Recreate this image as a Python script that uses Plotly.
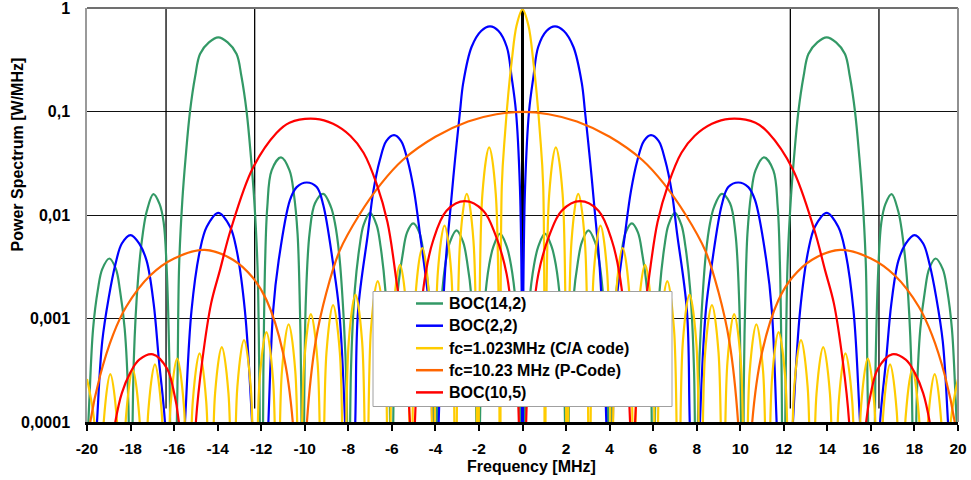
import plotly.graph_objects as go

# ---------------- data ----------------
# Frequency [MHz] / Power spectrum [W/MHz]; 1e-6 marks a spectral null (below the 1e-4 floor)

GREEN_F = [-20.0, -19.9, -19.72, -19.5, -19.3, -18.97, -18.67, -18.49, -18.27, -18.1, -18.02,
           -17.85, -17.65, -17.43, -17.25, -16.95, -16.67, -16.48, -16.34, -16.22, -16.07,
           -15.85, -15.77, -15.62, -15.47, -15.27, -15.03, -14.81, -14.4, -13.97, -13.54, -13.13, -12.91,
           -12.67, -12.47, -12.32, -12.17, -12.08, -11.98,
           -11.9, -11.82, -11.72, -11.52, -11.09, -10.7, -10.5, -10.33, -10.22, -10.16, -10.1,
           -10.02, -9.95, -9.78, -9.53, -9.15, -8.8, -8.62, -8.42, -8.2, -8.08, -7.98,
           -7.88, -7.7, -7.48, -7.3, -7.0, -6.7, -6.52, -6.3, -6.12, -6.0,
           -5.9, -5.72, -5.5, -5.3, -5.02, -4.74, -4.54, -4.32, -4.14, -4.02,
           -3.9, -3.72, -3.52, -3.33, -3.03, -2.73, -2.55, -2.33, -2.15, -2.05,
           -1.92, -1.74, -1.53, -1.33, -1.03, -0.73, -0.53, -0.31, -0.13, 0.0,
           0.13, 0.31, 0.53, 0.73, 1.03, 1.33, 1.53, 1.74, 1.92, 2.05,
           2.15, 2.33, 2.55, 2.73, 3.03, 3.33, 3.52, 3.72, 3.9, 4.02,
           4.14, 4.32, 4.54, 4.74, 5.02, 5.3, 5.5, 5.72, 5.9, 6.0,
           6.12, 6.3, 6.52, 6.7, 7.0, 7.3, 7.48, 7.7, 7.88, 7.98,
           8.08, 8.2, 8.42, 8.62, 8.8, 9.15, 9.53, 9.78, 9.95, 10.02, 10.1,
           10.16, 10.22, 10.33, 10.5, 10.7, 11.09, 11.52, 11.72, 11.82, 11.9, 11.98,
           12.08, 12.17, 12.32, 12.47, 12.67, 12.91, 13.13, 13.54, 13.97, 14.4, 14.81, 15.03,
           15.27, 15.47, 15.62, 15.77, 15.85, 16.07,
           16.22, 16.34, 16.48, 16.67, 16.95, 17.25, 17.43, 17.65, 17.85, 18.02,
           18.1, 18.27, 18.49, 18.67, 18.97, 19.3, 19.5, 19.72, 19.9, 20.0]
GREEN_P = [5e-5, 0.00015, 0.0008, 0.0019, 0.003, 0.0038, 0.003, 0.0019, 0.0008, 0.00015, 1e-6,
           0.0004, 0.0025, 0.0068, 0.011, 0.0159, 0.0128, 0.0085, 0.003, 0.0004, 1e-6,
           0.0002, 0.0032, 0.014, 0.036, 0.1, 0.22, 0.36, 0.465, 0.52, 0.465, 0.36, 0.22,
           0.1, 0.036, 0.014, 0.0032, 0.0002, 1e-6,
           0.0003, 0.0035, 0.012, 0.027, 0.036, 0.027, 0.016, 0.0066, 0.0012, 0.0002, 1e-6,
           0.0002, 0.0015, 0.0066, 0.013, 0.016, 0.012, 0.0085, 0.0042, 0.0009, 0.0002, 1e-6,
           0.0003, 0.0019, 0.005, 0.008, 0.0105, 0.008, 0.005, 0.0019, 0.0003, 1e-6,
           0.0003, 0.0019, 0.0042, 0.0068, 0.0083, 0.0068, 0.0042, 0.0019, 0.0003, 1e-6,
           0.00025, 0.0015, 0.0036, 0.0055, 0.0071, 0.0055, 0.0036, 0.0015, 0.00025, 1e-6,
           0.00022, 0.0014, 0.0033, 0.005, 0.0066, 0.005, 0.0033, 0.0014, 0.00022, 1e-6,
           0.00022, 0.0014, 0.0033, 0.005, 0.0066, 0.005, 0.0033, 0.0014, 0.00022, 1e-6,
           0.00025, 0.0015, 0.0036, 0.0055, 0.0071, 0.0055, 0.0036, 0.0015, 0.00025, 1e-6,
           0.0003, 0.0019, 0.0042, 0.0068, 0.0083, 0.0068, 0.0042, 0.0019, 0.0003, 1e-6,
           0.0003, 0.0019, 0.005, 0.008, 0.0105, 0.008, 0.005, 0.0019, 0.0003, 1e-6,
           0.0002, 0.0009, 0.0042, 0.0085, 0.012, 0.016, 0.013, 0.0066, 0.0015, 0.0002, 1e-6,
           0.0002, 0.0012, 0.0066, 0.016, 0.027, 0.036, 0.027, 0.012, 0.0035, 0.0003, 1e-6,
           0.0002, 0.0032, 0.014, 0.036, 0.1, 0.22, 0.36, 0.465, 0.52, 0.465, 0.36, 0.22,
           0.1, 0.036, 0.014, 0.0032, 0.0002, 1e-6,
           0.0004, 0.003, 0.0085, 0.0128, 0.0159, 0.011, 0.0068, 0.0025, 0.0004, 1e-6,
           0.00015, 0.0008, 0.0019, 0.003, 0.0038, 0.003, 0.0019, 0.0008, 0.00015, 5e-5]

BLUE_F = [-20.0, -19.54, -19.3, -19.0, -18.7, -18.4, -18.0, -17.6, -17.26, -16.94, -16.7, -16.42, -16.0,
          -15.5, -15.2, -14.81, -14.5, -13.97, -13.43, -13.13, -12.75, -12.42, -12.0,
          -11.67, -11.45, -11.2, -10.68, -10.37, -9.91, -9.45, -9.15, -8.7, -8.42, -8.15, -7.95,
          -7.68, -7.55, -7.1, -6.85, -6.55, -6.25, -5.9, -5.58, -5.28, -4.98, -4.71, -4.28, -4.15, -4.0,
          -3.85, -3.55, -3.3, -3.1, -2.87, -2.72, -2.34, -1.9, -1.49, -1.1, -0.72, -0.5, -0.3, -0.12, -0.04, 0.0,
          0.04, 0.12, 0.3, 0.5, 0.72, 1.1, 1.49, 1.9, 2.34, 2.72, 2.87, 3.1, 3.3, 3.55, 3.85,
          4.0, 4.15, 4.28, 4.71, 4.98, 5.28, 5.58, 5.9, 6.25, 6.55, 6.85, 7.1, 7.55, 7.68,
          7.95, 8.15, 8.42, 8.7, 9.15, 9.45, 9.91, 10.37, 10.68, 11.2, 11.45, 11.67,
          12.0, 12.42, 12.75, 13.13, 13.43, 13.97, 14.5, 14.81, 15.2, 15.5,
          16.0, 16.42, 16.7, 16.94, 17.26, 17.6, 18.0, 18.4, 18.7, 19.0, 19.3, 19.54, 20.0]
BLUE_P = [1e-6, 0.0001, 0.0006, 0.0016, 0.0033, 0.0053, 0.0064, 0.0053, 0.0036, 0.0014, 0.0004, 0.0001, 1e-6,
          0.0001, 0.0012, 0.0046, 0.0077, 0.0105, 0.0077, 0.0046, 0.0012, 0.0001, 1e-6,
          0.0001, 0.0012, 0.0036, 0.0139, 0.0186, 0.0206, 0.0186, 0.0125, 0.0034, 0.0012, 0.0001, 1e-6,
          0.0001, 0.0012, 0.0066, 0.017, 0.034, 0.052, 0.059, 0.052, 0.034, 0.017, 0.0066, 0.0012, 0.0001, 1e-6,
          0.0001, 0.003, 0.012, 0.034, 0.1, 0.19, 0.42, 0.6, 0.665, 0.6, 0.42, 0.215, 0.1, 0.019, 0.002, 1e-6,
          0.002, 0.019, 0.1, 0.215, 0.42, 0.6, 0.665, 0.6, 0.42, 0.19, 0.1, 0.034, 0.012, 0.003, 0.0001,
          1e-6, 0.0001, 0.0012, 0.0066, 0.017, 0.034, 0.052, 0.059, 0.052, 0.034, 0.017, 0.0066, 0.0012, 0.0001,
          1e-6, 0.0001, 0.0012, 0.0034, 0.0125, 0.0186, 0.0206, 0.0186, 0.0139, 0.0036, 0.0012, 0.0001,
          1e-6, 0.0001, 0.0012, 0.0046, 0.0077, 0.0105, 0.0077, 0.0046, 0.0012, 0.0001,
          1e-6, 0.0001, 0.0004, 0.0014, 0.0036, 0.0053, 0.0064, 0.0053, 0.0033, 0.0016, 0.0006, 0.0001, 1e-6]

YELLOW_F = [-20.0, -19.64, -19.437, -19.232, -18.93, -18.619, -18.414, -18.209, -17.9, -17.596, -17.391,
            -17.186, -16.88, -16.573, -16.368, -16.163, -15.86, -15.55, -15.345, -15.14, -14.83, -14.527, -14.322,
            -14.117, -13.81, -13.504, -13.299, -13.094, -12.79, -12.481, -12.276, -12.071, -11.76, -11.458, -11.253,
            -11.048, -10.74, -10.435, -10.23, -10.025, -9.72, -9.412, -9.207, -9.002, -8.7, -8.389, -8.184,
            -7.979, -7.67, -7.366, -7.161, -6.956, -6.65, -6.343, -6.138, -5.933, -5.63, -5.32, -5.115,
            -4.91, -4.6, -4.297, -4.092, -3.887, -3.58, -3.274, -3.069, -2.864, -2.56, -2.251, -2.046,
            -1.841, -1.53, -1.228, -1.023, -0.95, -0.8, -0.65, -0.5, -0.27, 0.0,
            0.27, 0.5, 0.65, 0.8, 0.95, 1.023, 1.228, 1.53, 1.841, 2.046, 2.251, 2.56, 2.864, 3.069,
            3.274, 3.58, 3.887, 4.092, 4.297, 4.6, 4.91, 5.115, 5.32, 5.63, 5.933, 6.138,
            6.343, 6.65, 6.956, 7.161, 7.366, 7.67, 7.979, 8.184, 8.389, 8.7, 9.002, 9.207,
            9.412, 9.72, 10.025, 10.23, 10.435, 10.74, 11.048, 11.253, 11.458, 11.76, 12.071, 12.276,
            12.481, 12.79, 13.094, 13.299, 13.504, 13.81, 14.117, 14.322, 14.527, 14.83, 15.14, 15.345,
            15.55, 15.86, 16.163, 16.368, 16.573, 16.88, 17.186, 17.391, 17.596, 17.9, 18.209, 18.414,
            18.619, 18.93, 19.232, 19.437, 19.64, 20.0]
YELLOW_P = [0.00026, 0.00009, 1e-6, 0.0001, 0.00029, 0.0001, 1e-6, 0.000112, 0.00032, 0.000112, 1e-6,
            0.000126, 0.00036, 0.000126, 1e-6, 0.000143, 0.00041, 0.000143, 1e-6, 0.00016, 0.00046, 0.00016, 1e-6,
            0.00019, 0.00053, 0.00019, 1e-6, 0.00022, 0.00062, 0.00022, 1e-6, 0.00026, 0.00074, 0.00026, 1e-6,
            0.00031, 0.00088, 0.00031, 1e-6, 0.00038, 0.0011, 0.00038, 1e-6, 0.00047, 0.00135, 0.00047, 1e-6,
            0.0006, 0.0017, 0.0006, 1e-6, 0.0008, 0.0023, 0.0008, 1e-6, 0.00115, 0.0033, 0.00115, 1e-6,
            0.0017, 0.0048, 0.0017, 1e-6, 0.0028, 0.0079, 0.0028, 1e-6, 0.0056, 0.016, 0.0056, 1e-6,
            0.016, 0.045, 0.016, 1e-6, 0.019, 0.062, 0.15, 0.3, 0.68, 0.97,
            0.68, 0.3, 0.15, 0.062, 0.019, 1e-6, 0.016, 0.045, 0.016, 1e-6, 0.0056, 0.016, 0.0056, 1e-6,
            0.0028, 0.0079, 0.0028, 1e-6, 0.0017, 0.0048, 0.0017, 1e-6, 0.00115, 0.0033, 0.00115, 1e-6,
            0.0008, 0.0023, 0.0008, 1e-6, 0.0006, 0.0017, 0.0006, 1e-6, 0.00047, 0.00135, 0.00047, 1e-6,
            0.00038, 0.0011, 0.00038, 1e-6, 0.00031, 0.00088, 0.00031, 1e-6, 0.00026, 0.00074, 0.00026, 1e-6,
            0.00022, 0.00062, 0.00022, 1e-6, 0.00019, 0.00053, 0.00019, 1e-6, 0.00016, 0.00046, 0.00016, 1e-6,
            0.000143, 0.00041, 0.000143, 1e-6, 0.000126, 0.00036, 0.000126, 1e-6, 0.000112, 0.00032, 0.000112, 1e-6,
            0.0001, 0.00029, 0.0001, 1e-6, 0.00009, 0.00026]

ORANGE_F = [-20.0, -19.85, -19.4, -18.8, -18.2, -17.1, -16.0, -14.6, -13.3, -12.4, -11.75, -11.0, -10.55, -10.23,
            -9.9, -9.5, -9.0, -8.4, -7.5, -6.5, -5.5, -4.0, -2.5, -1.2, 0.0,
            1.2, 2.5, 4.0, 5.5, 6.5, 7.5, 8.4, 9.0, 9.5, 9.9,
            10.23, 10.55, 11.0, 11.75, 12.4, 13.3, 14.6, 16.0, 17.1, 18.2, 18.8, 19.4, 19.85, 20.0]
ORANGE_P = [5e-5, 0.0001, 0.00028, 0.0007, 0.0013, 0.0026, 0.0038, 0.0046, 0.0037, 0.0025, 0.0015, 0.00047, 0.0001, 1e-6,
            0.0001, 0.0006, 0.0018, 0.0045, 0.010, 0.02, 0.034, 0.057, 0.080, 0.094, 0.099,
            0.094, 0.080, 0.057, 0.034, 0.02, 0.010, 0.0045, 0.0018, 0.0006, 0.0001,
            1e-6, 0.0001, 0.00047, 0.0015, 0.0025, 0.0037, 0.0046, 0.0038, 0.0026, 0.0013, 0.0007, 0.00028, 0.0001, 5e-5]

RED_F = [-20.0, -18.7, -18.4, -18.01, -17.6, -16.97, -16.33, -16.04, -15.78, -15.35,
         -15.0, -14.7, -14.3, -13.9, -13.4, -12.4, -11.3, -10.7, -9.5, -8.7, -7.9, -7.3, -6.7, -6.2, -5.8, -5.5, -5.17, -5.06,
         -4.94, -4.56, -4.1, -3.49, -2.64, -1.8, -1.25, -0.73, -0.45, -0.2, 0.0,
         0.2, 0.45, 0.73, 1.25, 1.8, 2.64, 3.49, 4.1, 4.56, 4.94,
         5.06, 5.17, 5.5, 5.8, 6.2, 6.7, 7.3, 7.9, 8.7, 9.5, 10.7, 11.3, 12.4, 13.4, 13.9, 14.3, 14.7, 15.0,
         15.35, 15.78, 16.04, 16.33, 16.97, 17.6, 18.01, 18.4, 18.7, 20.0]
RED_P = [1e-6, 0.0001, 0.00019, 0.0003, 0.0004, 0.00045, 0.00033, 0.00021, 0.0001, 1e-6,
         0.0001, 0.0004, 0.0014, 0.0029, 0.0072, 0.028, 0.062, 0.078, 0.085, 0.076, 0.058, 0.040, 0.020, 0.0085, 0.0024, 0.0008, 0.0001, 1e-6,
         0.0001, 0.0019, 0.0057, 0.011, 0.0136, 0.011, 0.0065, 0.0027, 0.0009, 0.00016, 1e-6,
         0.00016, 0.0009, 0.0027, 0.0065, 0.011, 0.0136, 0.011, 0.0057, 0.0019, 0.0001,
         1e-6, 0.0001, 0.0008, 0.0024, 0.0085, 0.020, 0.040, 0.058, 0.076, 0.085, 0.078, 0.062, 0.028, 0.0072, 0.0029, 0.0014, 0.0004, 0.0001,
         1e-6, 0.0001, 0.00021, 0.00033, 0.00045, 0.0004, 0.0003, 0.00019, 0.0001, 1e-6]

# black band-edge markers (MHz) and their vertical extent
EDGE_F = [-16.37, -12.3, 12.3, 16.37]
EDGE_P = [0.000135, 1.0]

SERIES_NAMES = ["BOC(14,2)", "BOC(2,2)", "fc=1.023MHz (C/A code)", "fc=10.23 MHz (P-Code)", "BOC(10,5)"]
SERIES_COLORS = ["#339966", "#0000FF", "#FFCC00", "#FF6600", "#FF0000"]

X_TICKS = list(range(-20, 21, 2))
X_LABELS = [str(v) for v in X_TICKS]
Y_TICKS = [0.0001, 0.001, 0.01, 0.1, 1]
Y_LABELS = ["0,0001", "0,001", "0,01", "0,1", "1"]

FONT = "Arial, 'Liberation Sans', sans-serif"

# ---------------- figure ----------------
fig = go.Figure()

ex, ey = [], []
for f in EDGE_F:
    ex += [f, f, None]
    ey += [EDGE_P[0], EDGE_P[1], None]
fig.add_trace(go.Scatter(x=ex, y=ey, mode="lines", line=dict(color="black", width=1.3),
                         hoverinfo="skip", showlegend=False))

for name, fx, py_, col in zip(SERIES_NAMES,
                              [GREEN_F, BLUE_F, YELLOW_F, ORANGE_F, RED_F],
                              [GREEN_P, BLUE_P, YELLOW_P, ORANGE_P, RED_P],
                              SERIES_COLORS):
    fig.add_trace(go.Scatter(x=fx, y=py_, mode="lines", name=name,
                             line=dict(color=col, width=2.2, shape="spline", smoothing=1.0),
                             showlegend=False))

L, R, T, B = 87, 13, 8, 58
W, H = 971, 480
PW, PH = W - L - R, H - T - B

def px2paper_x(px):
    return (px - L) / PW

def px2paper_y(py):
    return (H - B - py) / PH

fig.update_layout(
    width=W, height=H, margin=dict(l=L, r=R, t=T, b=B, autoexpand=False),
    paper_bgcolor="white", plot_bgcolor="white", showlegend=False,
    font=dict(family=FONT, color="black"),
)
fig.update_xaxes(range=[-20, 20], tickvals=X_TICKS, ticktext=X_LABELS, automargin=False,
                 ticks="outside", ticklen=6, tickwidth=2, tickcolor="black",
                 showline=True, linecolor="black", linewidth=2.5,
                 showgrid=False, zeroline=True, zerolinecolor="black", zerolinewidth=3,
                 ticklabelstandoff=5, ticklabeloverflow="allow",
                 tickfont=dict(size=15.5, family=FONT, color="black", weight="bold"))
fig.update_yaxes(type="log", range=[-4, 0], tickvals=Y_TICKS, ticktext=Y_LABELS, automargin=False,
                 ticks="", showline=True, linecolor="#9a9a9a", linewidth=1.5,
                 showgrid=True, gridcolor="#111111", gridwidth=1, zeroline=False,
                 ticklabelstandoff=12, ticklabeloverflow="allow",
                 tickfont=dict(size=16, family=FONT, color="black", weight="bold"))

shapes = [
    dict(type="line", xref="paper", yref="paper", x0=0, x1=1, y0=1, y1=1,
         line=dict(color="#707070", width=2), layer="above"),
    dict(type="line", xref="paper", yref="paper", x0=1, x1=1, y0=0, y1=1,
         line=dict(color="#909090", width=2), layer="above"),
]
# legend box
shapes.append(dict(type="rect", xref="paper", yref="paper",
                   x0=px2paper_x(373), x1=px2paper_x(672), y0=px2paper_y(406.5), y1=px2paper_y(291.5),
                   fillcolor="white", line=dict(color="#a0a0a0", width=1), layer="above"))
row_y = [303.5, 325.7, 348.2, 370.2, 392.4]
annotations = []
for name, col, ry in zip(SERIES_NAMES, SERIES_COLORS, row_y):
    shapes.append(dict(type="line", xref="paper", yref="paper",
                       x0=px2paper_x(416), x1=px2paper_x(443), y0=px2paper_y(ry), y1=px2paper_y(ry),
                       line=dict(color=col, width=2.5), layer="above"))
    annotations.append(dict(text=name, xref="paper", yref="paper", x=px2paper_x(446.5), y=px2paper_y(ry),
                            xanchor="left", yanchor="middle", showarrow=False,
                            font=dict(size=16, family=FONT, color="black", weight="bold")))

annotations.append(dict(text="Frequency [MHz]", xref="paper", yref="paper",
                        x=px2paper_x(531.5), y=px2paper_y(466), xanchor="center", yanchor="middle",
                        showarrow=False, font=dict(size=16, family=FONT, color="black", weight="bold")))
annotations.append(dict(text="Power Spectrum [W/MHz]", xref="paper", yref="paper",
                        x=px2paper_x(16.5), y=px2paper_y(155), xanchor="center", yanchor="middle",
                        textangle=-90, showarrow=False,
                        font=dict(size=16, family=FONT, color="black", weight="bold")))

fig.update_layout(shapes=shapes, annotations=annotations)
fig.write_html("out.html")
